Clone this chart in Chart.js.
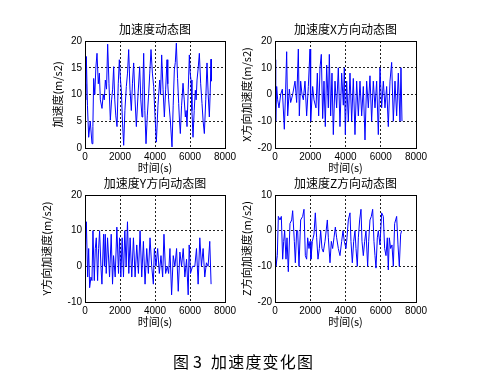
<!DOCTYPE html>
<html>
<head>
<meta charset="utf-8">
<script src="https://cdn.jsdelivr.net/npm/chart.js@4"></script>
<style>
  html, body { margin: 0; padding: 0; background: #fff; }
  #wrap { position: relative; width: 494px; height: 386px; overflow: hidden; }
  canvas { position: absolute; }
  .cap { position: absolute; top: 352px; font: 16px 'Noto Sans CJK SC', sans-serif; color: #000; line-height: 18px; white-space: nowrap; }
</style>
</head>
<body>
<div id="wrap">
  <canvas id="c1" style="left:0px;top:0px" width="247" height="185"></canvas>
  <canvas id="c2" style="left:232px;top:0px" width="262" height="185"></canvas>
  <canvas id="c3" style="left:0px;top:155px" width="247" height="184"></canvas>
  <canvas id="c4" style="left:232px;top:155px" width="262" height="184"></canvas>
  <span class="cap" style="left:173px">图</span>
  <span class="cap" style="left:193px">3</span>
  <span class="cap" style="left:211px;letter-spacing:1.2px">加速度变化图</span>
</div>
<script>
// time axis ticks
var timeTicks = [0, 2000, 4000, 6000, 8000];

// total acceleration (m/s2)
var t1 = [0, 40, 76, 140, 210, 300, 400, 450, 495, 560,
  620, 686, 760, 820, 876, 972, 1040, 1100, 1162, 1230,
  1295, 1370, 1448, 1520, 1580, 1638, 1700, 1760, 1829, 1900,
  1962, 2020, 2076, 2140, 2210, 2280, 2362, 2430, 2496, 2570,
  2648, 2710, 2781, 2860, 2934, 3030, 3124, 3190, 3258, 3300,
  3353, 3420, 3486, 3560, 3639, 3700, 3772, 3850, 3924, 4000,
  4077, 4170, 4267, 4320, 4381, 4460, 4534, 4610, 4686, 4730,
  4781, 4880, 4972, 5040, 5105, 5160, 5220, 5290, 5353, 5400,
  5448, 5520, 5601, 5670, 5734, 5780, 5829, 5900, 5963, 6010,
  6058, 6110, 6172, 6240, 6306, 6350, 6401, 6470, 6534, 6610,
  6686, 6750, 6820, 6900, 6972, 7040, 7106, 7150, 7201, 7220];
var acc = [12, 9, 17.1, 8, 2, 5, 0.8, 4, 13, 10,
  15, 17.7, 12, 14, 9, 7.4, 10, 9, 12.7, 11,
  19.4, 12, 5.2, 9, 11, 15.2, 9, 6, 4, 12,
  16.5, 13, 10.8, 5, 0.5, 7, 11.5, 14, 18.4, 11,
  7, 12, 15.9, 9, 4, 10, 15.2, 9, 5.8, 11,
  17.7, 7, 0.8, 6, 10.2, 14, 18.4, 14, 11.5, 6,
  1.1, 8, 12.7, 10, 17.4, 11, 5.8, 11, 16.5, 12,
  9, 5, 0.2, 8, 14.6, 16, 19.6, 13, 8.3, 5,
  2.7, 8, 12.1, 9, 5.8, 7, 4, 11, 17.4, 14,
  12.7, 7, 2, 7, 10.8, 9, 12.7, 15, 17.7, 12,
  8.3, 5, 2.7, 9, 15.9, 10, 5.8, 10, 16.6, 12.5];

// X direction
var t2 = [0, 38, 95, 151, 227, 321, 416, 529, 605, 662,
  719, 813, 889, 1002, 1135, 1229, 1324, 1380, 1456, 1532,
  1607, 1702, 1796, 1891, 1986, 2023, 2137, 2212, 2326, 2402,
  2477, 2553, 2628, 2704, 2780, 2855, 2931, 3026, 3082, 3158,
  3234, 3309, 3404, 3498, 3593, 3687, 3782, 3877, 3933, 3990,
  4066, 4160, 4255, 4350, 4444, 4538, 4633, 4728, 4822, 4917,
  5011, 5106, 5200, 5295, 5389, 5484, 5578, 5673, 5768, 5862,
  5957, 6051, 6146, 6240, 6335, 6429, 6524, 6619, 6713, 6808,
  6902, 6997, 7091, 7148, 7205];
var accX = [13, -10, 3, -2, -5, 0, 2, -13, 2, 16,
  -8, 2, -3, 0, 5, -3, 17, -8, 5, 0,
  -2, 5, -8, 3, 17, -10, 3, -2, -5, 8,
  -8, 10, 15, -9, 5, -12, 11, -5, 15, -8,
  8, -15, 5, -5, 10, -12, 8, -4, 10, -15,
  5, -10, 8, -10, 6, -15, 5, -8, 5, -8,
  3, -17, 5, -5, 7, -10, 5, -5, 5, -15,
  10, -5, 5, -5, 3, -12, 5, 12, -10, 5,
  -8, 8, -10, 10, -10];

// Y direction
var t3 = [0, 76, 152, 209, 265, 341, 398, 455, 531, 588,
  645, 720, 777, 834, 910, 967, 1062, 1110, 1157, 1213, 1289,
  1403, 1498, 1574, 1631, 1725, 1820, 1915, 1972, 2048, 2124,
  2199, 2275, 2351, 2427, 2503, 2579, 2673, 2768, 2863, 2958,
  3053, 3147, 3242, 3337, 3432, 3527, 3621, 3716, 3811, 3906,
  3963, 4057, 4152, 4247, 4342, 4437, 4512, 4607, 4702, 4778,
  4854, 4949, 5043, 5138, 5233, 5328, 5422, 5517, 5612, 5707,
  5802, 5897, 5953, 6029, 6143, 6276, 6371, 6465, 6560, 6655,
  6750, 6844, 6939, 7034, 7129, 7205];
var accY = [2, 12.5, -3, 5, -6, -3, -4, 10, -4, 5,
  8, -4, 5, 10, 0, -5, 9, 0, 9, -2, 8,
  -3, 9, -5, 3, -3, 11, -2, 8, -3, 8,
  -3, 10, 0, 12.5, -2, 8, -3, 8, -3, 6,
  -2, 10, -3, 7, -5, 5, -2, 8, 0, -5,
  5, 0, 5, -2, 3, -3, 9, -2, 0, -2,
  5, -8, 3, 0, 5, -7, 4, 0, 5, -3,
  2, -8, 6, -2, 0, 0, 5, -5, 8, 0,
  5, -3, 1, 0, 7, -5];

// Z direction
var t4 = [0, 57, 132, 189, 284, 359, 435, 492, 548, 624,
  681, 756, 851, 946, 1002, 1097, 1154, 1229, 1286, 1362,
  1456, 1570, 1645, 1721, 1796, 1853, 1929, 1986, 2042, 2118,
  2212, 2288, 2364, 2439, 2515, 2591, 2666, 2742, 2837, 2969,
  3026, 3120, 3196, 3271, 3347, 3423, 3498, 3593, 3687, 3782,
  3858, 3933, 4028, 4085, 4160, 4255, 4311, 4387, 4463, 4538,
  4595, 4671, 4728, 4803, 4879, 4936, 5011, 5087, 5162, 5257,
  5314, 5389, 5465, 5541, 5616, 5673, 5730, 5805, 5862, 5957,
  6051, 6146, 6221, 6297, 6373, 6429, 6486, 6562, 6637, 6713,
  6789, 6845, 6902, 6978, 7053, 7129, 7186];
var accZ = [0, -10, -7, 4, 3, 4, -8, -3, 0, -8,
  -2, -11.5, 2, 3, 5.6, -3, -9, 0, 0, -10,
  3, 4, 6, -7, -8, -2, -5, -3, -8, -3,
  -1, 5, -2, -8, -5, 0, -5, -6, -3, 3,
  -2, -9, -3, -5, -2, 1, -2, -5, -7, -3,
  0, -3, -5, -2, 3, 5, -3, -9, -3, 0,
  -5, -10, -2, 3, 6, -3, -7, -3, 0, -10,
  -3, 3, 4, 6, -3, -7, -10.5, -2, 0, -4,
  5, 4, -5, -7, -2, -11, -2, -5, -4, -10,
  2, 3, 4, -4, -10, -1, 0];

var cjk = "'Noto Sans CJK SC', sans-serif";
var latin = "'Liberation Sans', Arial, sans-serif";

// MATLAB-ish axes box
var boxPlugin = {
  id: 'box',
  afterDraw: function(chart) {
    var a = chart.chartArea, ctx = chart.ctx;
    ctx.save();
    ctx.strokeStyle = '#000';
    ctx.lineWidth = 1;
    ctx.strokeRect(Math.round(a.left) + 0.5, Math.round(a.top) + 0.5,
      Math.round(a.right - a.left), Math.round(a.bottom - a.top));
    ctx.restore();
  }
};

function pairs(t, v) {
  var out = [];
  for (var i = 0; i < Math.min(t.length, v.length); i++) out.push({x: t[i], y: v[i]});
  return out;
}

function plain(v) { return String(v); }

// g: yw = y axis width, pr = right padding, yl = y title offset, tp/tb = title padding
function makeChart(id, t, v, ymin, ymax, ystep, title, ylabel, g) {
  return new Chart(document.getElementById(id), {
    type: 'line',
    data: { datasets: [{ data: pairs(t, v), borderColor: '#0000ff', borderWidth: 1,
      pointRadius: 0, tension: 0, fill: false }] },
    options: {
      responsive: false,
      animation: false,
      events: [],
      layout: { padding: { left: 0, right: g.pr, top: 0, bottom: 0 } },
      plugins: {
        legend: { display: false },
        tooltip: { enabled: false },
        title: { display: true, text: title, fullSize: false, color: '#000',
          font: { family: cjk, size: 12, weight: 'normal' },
          padding: { top: g.tp, bottom: g.tb } }
      },
      scales: {
        x: {
          type: 'linear', min: 0, max: 8000,
          afterBuildTicks: function(s) { s.ticks = timeTicks.map(function(x) { return {value: x}; }); },
          ticks: { padding: 3, color: '#000', font: { family: latin, size: 10 },
            maxRotation: 0, minRotation: 0, autoSkip: false, callback: plain },
          grid: { color: '#222', drawTicks: false, lineWidth: 1 },
          border: { display: false, dash: [2, 2] },
          title: { display: true, text: '时间(s)', color: '#000',
            font: { family: cjk, size: 11 }, padding: { top: 0, bottom: 10.4 } },
          afterFit: function(s) { s.height = 37; }
        },
        y: {
          min: ymin, max: ymax,
          ticks: { stepSize: ystep, padding: 3, color: '#000', font: { family: latin, size: 10 },
            callback: plain },
          grid: { color: '#222', drawTicks: false, lineWidth: 1 },
          border: { display: false, dash: [2, 2] },
          title: { display: true, text: ylabel, color: '#000',
            font: { family: cjk, size: 11 }, padding: { top: g.yl, bottom: 0 } },
          afterFit: function(s) { s.width = g.yw; }
        }
      }
    },
    plugins: [boxPlugin]
  });
}

makeChart('c1', t1, acc, 0, 20, 5, '加速度动态图', '加速度(m/s2)',
  { yw: 85, pr: 22, yl: 51.4, tp: 22, tb: 4.6 });
makeChart('c2', t2, accX, -20, 20, 10, '加速度X方向动态图', 'X方向加速度(m/s2)',
  { yw: 43, pr: 78, yl: 8.1, tp: 22, tb: 4.6 });
makeChart('c3', t3, accY, -10, 20, 10, '加速度Y方向动态图', 'Y方向加速度(m/s2)',
  { yw: 85, pr: 22, yl: 40.1, tp: 20.8, tb: 4.8 });
makeChart('c4', t4, accZ, -20, 10, 10, '加速度Z方向动态图', 'Z方向加速度(m/s2)',
  { yw: 43, pr: 78, yl: 8.1, tp: 20.8, tb: 4.8 });
</script>
</body>
</html>
